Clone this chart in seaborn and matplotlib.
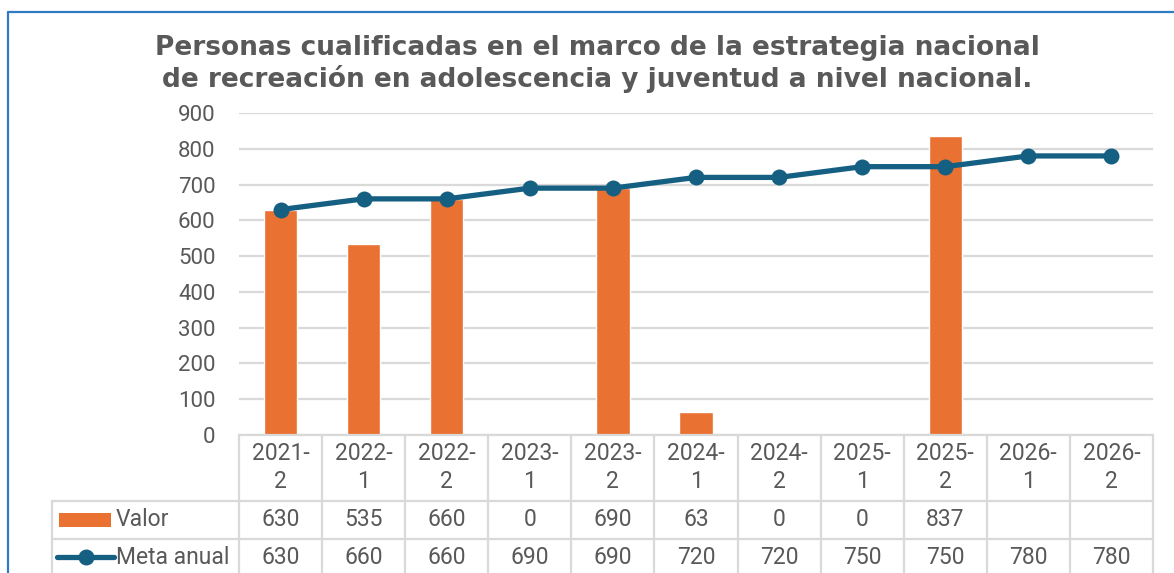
import numpy as np
import pandas as pd
import matplotlib
matplotlib.use("Agg")
import matplotlib.pyplot as plt
import matplotlib.transforms as mtransforms
from matplotlib.patches import Rectangle
from matplotlib.lines import Line2D
import seaborn as sns

# ---- data ----
categories = ["2021-2", "2022-1", "2022-2", "2023-1", "2023-2", "2024-1",
              "2024-2", "2025-1", "2025-2", "2026-1", "2026-2"]
valor = [630, 535, 660, 0, 690, 63, 0, 0, 837, np.nan, np.nan]
meta_anual = [630, 660, 660, 690, 690, 720, 720, 750, 750, 780, 780]
y_ticks = [0, 100, 200, 300, 400, 500, 600, 700, 800, 900]
title = ("Personas cualificadas en el marco de la estrategia nacional\n"
         "de recreación en adolescencia y juventud a nivel nacional.")
series_names = ["Valor", "Meta anual"]

ORANGE = "#E97132"
BLUE = "#156082"
TEXT = "#595959"
GRID = "#D9D9D9"
FRAME = "#2F7CC4"

sns.set_theme(style="white")
plt.rcParams["font.family"] = ["Roboto", "DejaVu Sans"]

W, H = 1174, 573
fig = plt.figure(figsize=(W / 100, H / 100), dpi=100)

def fx(px):
    return px / W

def fy(py):
    return 1 - py / H

ax_left, ax_right, ax_top, ax_bottom = 239, 1153, 113, 435
ax = fig.add_axes([fx(ax_left), fy(ax_bottom), fx(ax_right - ax_left),
                   (ax_bottom - ax_top) / H])

df = pd.DataFrame({"cat": categories, "valor": valor, "meta": meta_anual,
                   "idx": np.arange(len(categories))})

sns.barplot(data=df, x="cat", y="valor", color=ORANGE, width=0.4,
            saturation=1, ax=ax, zorder=2)
sns.lineplot(data=df, x="idx", y="meta", color=BLUE, linewidth=3.8,
             marker="o", markersize=11.5, markeredgewidth=0, ax=ax, zorder=3)

ax.set_xlim(-0.5, len(categories) - 0.5)
ax.set_ylim(0, 900)
ax.set_yticks(y_ticks)
ax.set_yticklabels([str(t) for t in y_ticks])
ax.tick_params(axis="y", length=0, pad=17, labelsize=16, labelcolor=TEXT)
ax.set_xticks([])
ax.set_xlabel("")
ax.set_ylabel("")
ax.grid(axis="y", color=GRID, linewidth=1.6, zorder=0)
ax.set_axisbelow(True)
for s in ax.spines.values():
    s.set_visible(False)

# ---- title ----
fig.text(fx(597), fy(64), title, ha="center", va="center", fontsize=19,
         fontweight="bold", color=TEXT, family=["DejaVu Sans"],
         linespacing=1.2)

# ---- data table ----
bt = mtransforms.blended_transform_factory(ax.transData, fig.transFigure)
table_left = 52
row_lines = [ax_bottom, 501, 539, 578]
n = len(categories)
lw_tab = 1.6
# horizontal lines
fig.add_artist(Line2D([-0.5, n - 0.5], [fy(ax_bottom)] * 2, transform=bt,
                      color=GRID, lw=lw_tab))
for py in row_lines[1:]:
    fig.add_artist(Line2D([fx(table_left), fx(ax_right)], [fy(py)] * 2,
                          transform=fig.transFigure, color=GRID, lw=lw_tab))
# vertical lines
for i in range(n + 1):
    fig.add_artist(Line2D([i - 0.5, i - 0.5], [fy(ax_bottom), fy(578)],
                          transform=bt, color=GRID, lw=lw_tab))
fig.add_artist(Line2D([fx(table_left)] * 2, [fy(501), fy(578)],
                      transform=fig.transFigure, color=GRID, lw=lw_tab))

fs_tab = 16.5
for i, c in enumerate(categories):
    a, b = c.split("-")
    fig.text(i, fy(453), a + "-", transform=bt, ha="center", va="center",
             fontsize=fs_tab, color=TEXT)
    fig.text(i, fy(482), b, transform=bt, ha="center", va="center",
             fontsize=fs_tab, color=TEXT)
    v = valor[i]
    if not np.isnan(v):
        fig.text(i, fy(520), f"{int(v)}", transform=bt, ha="center",
                 va="center", fontsize=fs_tab, color=TEXT)
    fig.text(i, fy(558), f"{int(meta_anual[i])}", transform=bt, ha="center",
             va="center", fontsize=fs_tab, color=TEXT)

# legend keys inside table
fig.add_artist(Rectangle((fx(59), fy(527)), fx(52), 14 / H,
                         transform=fig.transFigure, color=ORANGE, lw=0))
fig.text(fx(116), fy(520), series_names[0], ha="left", va="center",
         fontsize=fs_tab, color=TEXT)
fig.add_artist(Line2D([fx(57), fx(114)], [fy(557)] * 2,
                      transform=fig.transFigure, color=BLUE, lw=3.8))
fig.add_artist(Line2D([fx(86)], [fy(557)], transform=fig.transFigure,
                      color=BLUE, marker="o", markersize=11.5, mew=0))
fig.text(fx(116), fy(558), series_names[1], ha="left", va="center",
         fontsize=fs_tab, color=TEXT)

# ---- outer frame (partially visible) ----
fig.add_artist(Line2D([fx(8), fx(8)], [fy(12), 0], transform=fig.transFigure,
                      color=FRAME, lw=1.6))
fig.add_artist(Line2D([fx(8), 1], [fy(12), fy(12)], transform=fig.transFigure,
                      color=FRAME, lw=1.6))

fig.savefig("out.png", dpi=100, facecolor="white")
